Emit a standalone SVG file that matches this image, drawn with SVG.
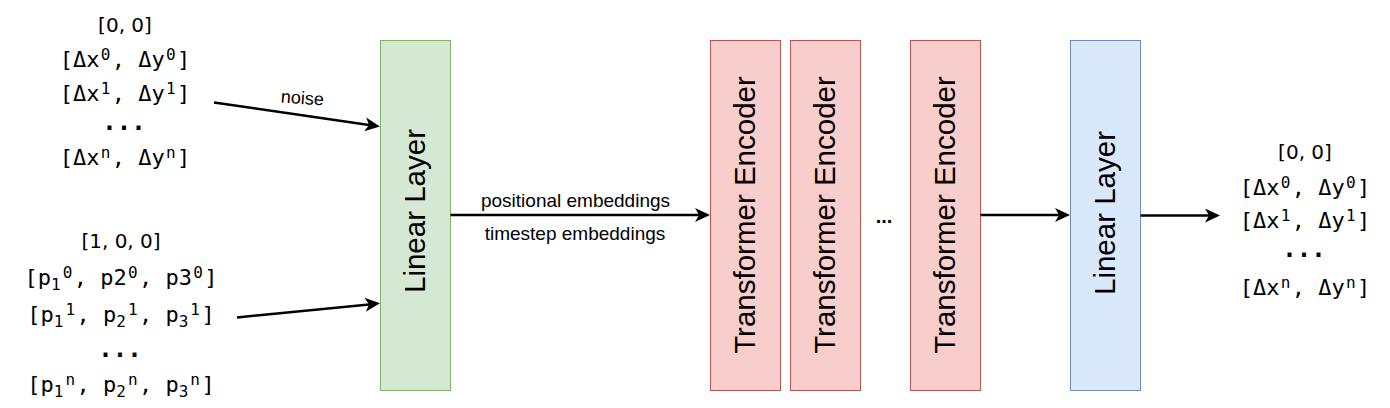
<svg xmlns="http://www.w3.org/2000/svg" width="1390" height="408" viewBox="0 0 1390 408">
<style>
.mono{font-family:"DejaVu Sans Mono",monospace;font-size:22px;fill:#000;text-anchor:middle}
.s{font-size:16px}
.dots{font-family:"DejaVu Sans Mono",monospace;font-size:24px;font-weight:bold;fill:#000;text-anchor:middle}
.head{font-family:"DejaVu Sans",sans-serif;font-size:20px;fill:#000;text-anchor:middle}
.lbl{font-family:"Liberation Sans",Arial,sans-serif;font-size:19px;fill:#000;text-anchor:middle}
.box{font-family:"Liberation Sans",Arial,sans-serif;font-size:29.5px;fill:#000;text-anchor:middle}
.green{fill:#d5e8d4;stroke:#82b366;stroke-width:1}
.red{fill:#f8cecc;stroke:#b85450;stroke-width:1}
.blue{fill:#dae8fc;stroke:#6c8ebf;stroke-width:1}
.edge{stroke:#000;stroke-width:2.5;fill:none;marker-end:url(#arr)}
</style>
<defs>
<marker id="arr" viewBox="0 0 15 14" markerWidth="15" markerHeight="14" refX="4" refY="7" orient="auto" markerUnits="userSpaceOnUse">
<path d="M0,0 L15,7 L0,14 L4,7 Z" fill="#000"/>
</marker>
</defs>
<rect width="1390" height="408" fill="#fff"/>

<g id="input-deltas">
<text class="head" x="125" y="32">[0, 0]</text>
<text class="mono" x="125" y="67">[Δx<tspan class="s" dx="1.2" dy="-7">0</tspan><tspan dx="1.4" dy="7">, Δy</tspan><tspan class="s" dx="1.2" dy="-7">0</tspan><tspan dx="1.4" dy="7">]</tspan></text>
<text class="mono" x="125" y="101">[Δx<tspan class="s" dx="1.2" dy="-7">1</tspan><tspan dx="1.4" dy="7">, Δy</tspan><tspan class="s" dx="1.2" dy="-7">1</tspan><tspan dx="1.4" dy="7">]</tspan></text>
<text class="dots" x="124" y="130">...</text>
<text class="mono" x="125" y="165">[Δx<tspan class="s" dx="1.2" dy="-7">n</tspan><tspan dx="1.4" dy="7">, Δy</tspan><tspan class="s" dx="1.2" dy="-7">n</tspan><tspan dx="1.4" dy="7">]</tspan></text>
</g>

<g id="input-pens">
<text class="head" x="121" y="248">[1, 0, 0]</text>
<text class="mono" x="121" y="285">[p<tspan class="s" dy="5">1</tspan><tspan class="s" dx="2" dy="-12">0</tspan><tspan dx="1.4" dy="7">, p2</tspan><tspan class="s" dx="1.2" dy="-7">0</tspan><tspan dx="1.4" dy="7">, p3</tspan><tspan class="s" dx="1.2" dy="-7">0</tspan><tspan dx="1.4" dy="7">]</tspan></text>
<text class="mono" x="121" y="322">[p<tspan class="s" dy="5">1</tspan><tspan class="s" dx="2" dy="-12">1</tspan><tspan dx="1.4" dy="7">, p</tspan><tspan class="s" dy="5">2</tspan><tspan class="s" dx="2" dy="-12">1</tspan><tspan dx="1.4" dy="7">, p</tspan><tspan class="s" dy="5">3</tspan><tspan class="s" dx="2" dy="-12">1</tspan><tspan dx="1.4" dy="7">]</tspan></text>
<text class="dots" x="120" y="357">...</text>
<text class="mono" x="121" y="392">[p<tspan class="s" dy="5">1</tspan><tspan class="s" dx="2" dy="-12">n</tspan><tspan dx="1.4" dy="7">, p</tspan><tspan class="s" dy="5">2</tspan><tspan class="s" dx="2" dy="-12">n</tspan><tspan dx="1.4" dy="7">, p</tspan><tspan class="s" dy="5">3</tspan><tspan class="s" dx="2" dy="-12">n</tspan><tspan dx="1.4" dy="7">]</tspan></text>
</g>

<g id="linear-in">
<rect class="green" x="380.5" y="40.5" width="70" height="350"/>
<text class="box" transform="translate(424.5,211) rotate(-90)">Linear Layer</text>
</g>

<g id="encoder-1">
<rect class="red" x="710.5" y="40.5" width="70" height="350"/>
<text class="box" transform="translate(755,215) rotate(-90)">Transformer Encoder</text>
</g>
<g id="encoder-2">
<rect class="red" x="790.5" y="40.5" width="70" height="350"/>
<text class="box" transform="translate(835,215) rotate(-90)">Transformer Encoder</text>
</g>
<g id="ellipsis">
<text x="884" y="222.5" style="font-family:'Liberation Sans',Arial,sans-serif;font-size:20px;font-weight:bold;text-anchor:middle">...</text>
</g>
<g id="encoder-n">
<rect class="red" x="910.5" y="40.5" width="70" height="350"/>
<text class="box" transform="translate(955,215) rotate(-90)">Transformer Encoder</text>
</g>

<g id="linear-out">
<rect class="blue" x="1070.5" y="40.5" width="70" height="350"/>
<text class="box" transform="translate(1115,213) rotate(-90)">Linear Layer</text>
</g>

<g id="output">
<text class="head" x="1305" y="159">[0, 0]</text>
<text class="mono" x="1305" y="195">[Δx<tspan class="s" dx="1.2" dy="-7">0</tspan><tspan dx="1.4" dy="7">, Δy</tspan><tspan class="s" dx="1.2" dy="-7">0</tspan><tspan dx="1.4" dy="7">]</tspan></text>
<text class="mono" x="1305" y="228">[Δx<tspan class="s" dx="1.2" dy="-7">1</tspan><tspan dx="1.4" dy="7">, Δy</tspan><tspan class="s" dx="1.2" dy="-7">1</tspan><tspan dx="1.4" dy="7">]</tspan></text>
<text class="dots" x="1304" y="257">...</text>
<text class="mono" x="1305" y="295">[Δx<tspan class="s" dx="1.2" dy="-7">n</tspan><tspan dx="1.4" dy="7">, Δy</tspan><tspan class="s" dx="1.2" dy="-7">n</tspan><tspan dx="1.4" dy="7">]</tspan></text>
</g>

<g id="connectors">
<line class="edge" x1="214" y1="102.5" x2="369.1" y2="124.9"/>
<text transform="translate(302,104) rotate(4)" style="font-family:'Liberation Sans',Arial,sans-serif;font-size:18px;text-anchor:middle">noise</text>
<line class="edge" x1="237" y1="317.5" x2="369.1" y2="304.4"/>
<line class="edge" x1="450.5" y1="215" x2="699" y2="215"/>
<text class="lbl" x="575.5" y="206.5">positional embeddings</text>
<text class="lbl" x="575" y="240">timestep embeddings</text>
<line class="edge" x1="980.5" y1="215" x2="1059" y2="215"/>
<line class="edge" x1="1140.5" y1="215.5" x2="1209" y2="215.5"/>
</g>
</svg>
